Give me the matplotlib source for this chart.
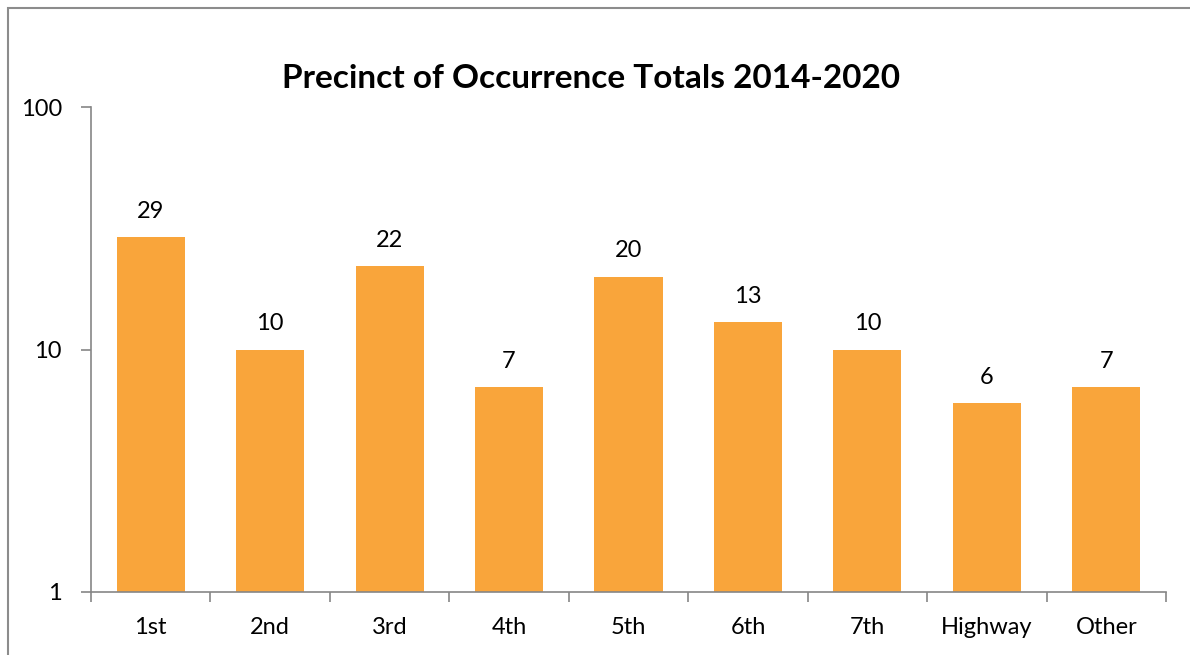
import matplotlib
matplotlib.use("Agg")
import matplotlib.pyplot as plt
from matplotlib.patches import Rectangle
from matplotlib.ticker import FixedLocator, NullLocator, FixedFormatter

categories = ["1st", "2nd", "3rd", "4th", "5th", "6th", "7th", "Highway", "Other"]
values = [29, 10, 22, 7, 20, 13, 10, 6, 7]
y_ticks = [1, 10, 100]
y_tick_labels = ["1", "10", "100"]
title = "Precinct of Occurrence Totals 2014-2020"

plt.rcParams['font.family'] = ['Lato', 'DejaVu Sans']

fig = plt.figure(figsize=(11.9, 6.55), dpi=100)
fig.patches.append(Rectangle((8/1190, -0.1), 1.2, 1 - 8/655 + 0.1, transform=fig.transFigure,
                             fill=False, edgecolor='#8c8c8c', linewidth=1.5))
ax = fig.add_axes([91/1190, 1 - 592/655, (1166 - 91)/1190, (592 - 107)/655])

x = list(range(len(categories)))
ax.bar(x, [v - 1 for v in values], bottom=1, width=0.57, color='#F9A53B')
ax.set_yscale('log')
ax.set_ylim(1, 100)
ax.set_xlim(-0.5, len(categories) - 0.5)

for xi, v in zip(x, values):
    ax.annotate(str(v), (xi, v), xytext=(0, 11), textcoords='offset points',
                ha='center', va='bottom', fontsize=17, color='#000000')

ax.yaxis.set_major_locator(FixedLocator(y_ticks))
ax.yaxis.set_major_formatter(FixedFormatter(y_tick_labels))
ax.yaxis.set_minor_locator(NullLocator())
ax.set_xticks([i - 0.5 for i in range(len(categories) + 1)])
ax.set_xticklabels([])
ax.set_xticks(x, minor=True)
ax.set_xticklabels(categories, minor=True)
ax.tick_params(axis='x', which='minor', length=0, labelsize=17, pad=18)
ax.tick_params(axis='x', which='major', length=7, width=1.2, color='#868686')
ax.tick_params(axis='y', which='major', length=7, width=1.2, color='#868686', labelsize=17, pad=14)

for s in ['top', 'right']:
    ax.spines[s].set_visible(False)
for s in ['left', 'bottom']:
    ax.spines[s].set_color('#868686')
    ax.spines[s].set_linewidth(1.2)

fig.text(591/1190, 1 - 79/655, title, ha='center', va='center', fontsize=24, fontweight='bold')

fig.savefig('out.png', dpi=100)
